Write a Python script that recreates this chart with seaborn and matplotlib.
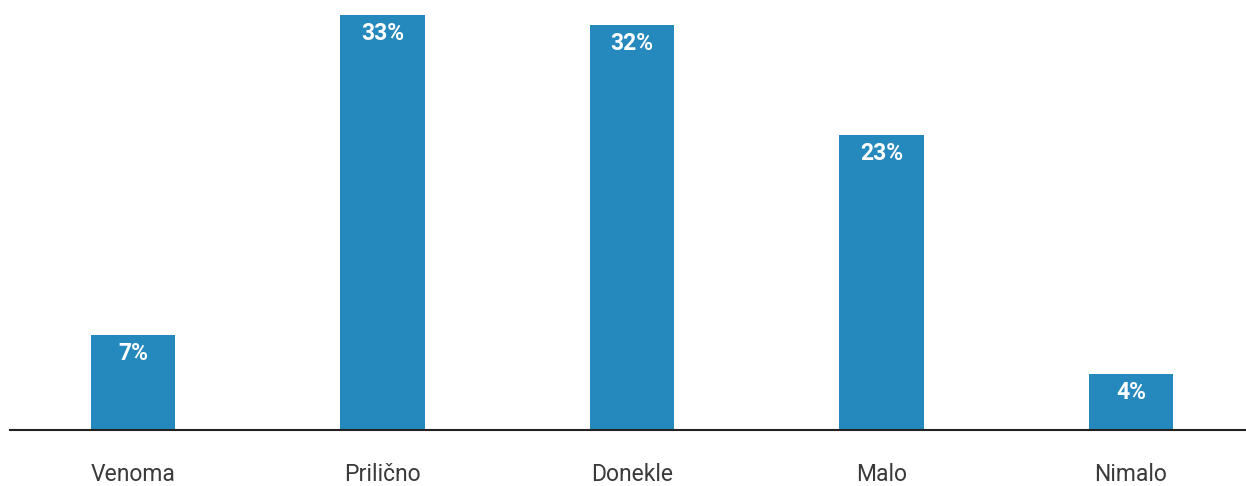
import matplotlib
matplotlib.use("Agg")
import matplotlib.pyplot as plt
import seaborn as sns
import pandas as pd

# Data
categories = ["Venoma", "Prili\u010dno", "Donekle", "Malo", "Nimalo"]
heights = [7.55, 33.0, 32.2, 23.45, 4.45]
value_labels = ["7%", "33%", "32%", "23%", "4%"]

bar_color = "#2589bd"

sns.set_theme(style="white")
plt.rcParams["font.family"] = ["Roboto", "DejaVu Sans"]

df = pd.DataFrame({"cat": categories, "val": heights})

fig = plt.figure(figsize=(12.46, 4.86), dpi=100)
ax = fig.add_axes([10 / 1246, 1 - 430 / 486, 1 - 10 / 1246, 430 / 486])

sns.barplot(data=df, x="cat", y="val", color=bar_color, saturation=1,
            width=0.34, linewidth=0, ax=ax)

ax.set_xlim(-0.493, 4.461)
ax.set_ylim(0, 430 / 12.58)

# value labels inside top of bars
for patch, lab in zip(ax.patches, value_labels):
    x = patch.get_x() + patch.get_width() / 2
    ax.annotate(lab, (x, patch.get_height()), xytext=(0, -13.5),
                textcoords="offset points", ha="center", va="center",
                color="white", fontsize=16.5, fontweight="bold")

for side in ["top", "right", "left"]:
    ax.spines[side].set_visible(False)
ax.spines["bottom"].set_color("#222222")
ax.spines["bottom"].set_linewidth(1.5)

ax.set_yticks([])
ax.set_xlabel("")
ax.set_ylabel("")
ax.tick_params(axis="x", length=0, pad=24, labelsize=16.5, labelcolor="#3a3a3a")

fig.savefig("out.png", dpi=100)
